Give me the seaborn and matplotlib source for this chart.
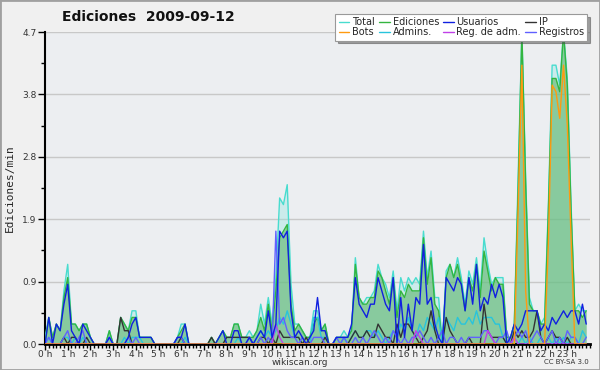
import numpy as np
import pandas as pd
import matplotlib
matplotlib.use("Agg")
import matplotlib.pyplot as plt
from matplotlib.lines import Line2D
from matplotlib.patches import Rectangle
from matplotlib.ticker import FixedLocator
import seaborn as sns

# ---------------- data (edits per minute, 10-minute buckets, 24 h) ----------------
hour_labels = [f"{h} h" for h in range(24)]
slot_minutes = list(range(0, 1440, 10))

total = [
    0.1, 0.4, 0.1, 0.3, 0.2, 0.8,
    1.2, 0.3, 0.3, 0.2, 0.3, 0.3,
    0.1, 0.0, 0.0, 0.0, 0.0, 0.2,
    0.0, 0.0, 0.4, 0.3, 0.2, 0.5,
    0.5, 0.1, 0.1, 0.1, 0.1, 0.0,
    0.0, 0.0, 0.0, 0.0, 0.0, 0.1,
    0.3, 0.3, 0.0, 0.0, 0.0, 0.0,
    0.0, 0.0, 0.1, 0.0, 0.1, 0.2,
    0.1, 0.1, 0.3, 0.3, 0.1, 0.1,
    0.2, 0.1, 0.2, 0.6, 0.3, 0.7,
    0.3, 1.0, 2.2, 2.1, 2.4, 0.9,
    0.3, 0.3, 0.2, 0.1, 0.1, 0.5,
    0.5, 0.2, 0.3, 0.0, 0.0, 0.1,
    0.1, 0.2, 0.1, 0.2, 1.3, 0.7,
    0.6, 0.7, 0.7, 0.8, 1.2, 1.0,
    0.9, 0.7, 1.1, 0.5, 1.0, 0.8,
    1.0, 0.9, 1.0, 0.9, 1.7, 1.0,
    1.4, 0.7, 0.7, 0.0, 1.1, 1.2,
    1.0, 1.3, 1.0, 0.6, 1.1, 0.9,
    1.3, 0.8, 1.6, 1.2, 0.9, 1.0,
    1.0, 1.0, 0.1, 0.1, 0.3, 2.5,
    4.7, 2.5, 0.7, 0.5, 0.5, 0.3,
    0.4, 2.1, 4.2, 4.2, 3.9, 4.7,
    4.0, 2.1, 0.5, 0.6, 0.5, 0.5,
]

ediciones = [
    0.0, 0.4, 0.1, 0.3, 0.2, 0.7,
    1.0, 0.3, 0.3, 0.2, 0.3, 0.3,
    0.1, 0.0, 0.0, 0.0, 0.0, 0.2,
    0.0, 0.0, 0.4, 0.3, 0.2, 0.4,
    0.4, 0.1, 0.1, 0.1, 0.1, 0.0,
    0.0, 0.0, 0.0, 0.0, 0.0, 0.1,
    0.2, 0.3, 0.0, 0.0, 0.0, 0.0,
    0.0, 0.0, 0.1, 0.0, 0.1, 0.2,
    0.1, 0.1, 0.3, 0.3, 0.1, 0.1,
    0.1, 0.1, 0.2, 0.4, 0.2, 0.6,
    0.2, 0.8, 1.6, 1.7, 1.8, 0.6,
    0.2, 0.3, 0.2, 0.1, 0.1, 0.3,
    0.4, 0.2, 0.3, 0.0, 0.0, 0.1,
    0.1, 0.1, 0.1, 0.2, 1.2, 0.7,
    0.6, 0.6, 0.7, 0.7, 1.1, 1.0,
    0.8, 0.6, 1.0, 0.4, 0.8, 0.7,
    0.9, 0.8, 0.8, 0.8, 1.6, 0.9,
    1.3, 0.6, 0.5, 0.0, 1.0, 1.2,
    1.0, 1.2, 0.9, 0.5, 1.0, 0.8,
    1.2, 0.7, 1.4, 1.1, 0.8, 1.0,
    0.9, 0.9, 0.1, 0.1, 0.3, 2.3,
    4.7, 2.4, 0.6, 0.5, 0.5, 0.3,
    0.3, 2.0, 4.0, 4.0, 3.8, 4.7,
    3.9, 2.0, 0.5, 0.5, 0.4, 0.5,
]

usuarios = [
    0.0, 0.4, 0.0, 0.3, 0.2, 0.6,
    0.9, 0.2, 0.1, 0.0, 0.3, 0.2,
    0.1, 0.0, 0.0, 0.0, 0.0, 0.1,
    0.0, 0.0, 0.0, 0.0, 0.1, 0.3,
    0.4, 0.1, 0.1, 0.1, 0.1, 0.0,
    0.0, 0.0, 0.0, 0.0, 0.0, 0.1,
    0.1, 0.3, 0.0, 0.0, 0.0, 0.0,
    0.0, 0.0, 0.0, 0.0, 0.1, 0.2,
    0.0, 0.0, 0.2, 0.2, 0.0, 0.0,
    0.1, 0.0, 0.1, 0.2, 0.1, 0.5,
    0.1, 0.3, 1.7, 1.6, 1.7, 0.5,
    0.1, 0.2, 0.1, 0.0, 0.1, 0.2,
    0.7, 0.2, 0.2, 0.0, 0.0, 0.1,
    0.1, 0.1, 0.1, 0.3, 1.0, 0.6,
    0.5, 0.4, 0.6, 0.6, 1.0, 0.8,
    0.6, 0.5, 1.0, 0.0, 0.7, 0.1,
    0.6, 0.2, 0.7, 0.6, 1.5, 0.6,
    0.7, 0.3, 0.1, 0.0, 1.0, 0.9,
    0.8, 1.0, 0.9, 0.5, 1.0, 0.6,
    1.2, 0.5, 0.7, 0.6, 0.9, 0.7,
    0.9, 0.7, 0.0, 0.1, 0.3, 0.2,
    0.3, 0.5, 0.5, 0.5, 0.5, 0.2,
    0.3, 0.2, 0.4, 0.3, 0.4, 0.5,
    0.4, 0.5, 0.5, 0.3, 0.6, 0.3,
]

ip = [
    0.0, 0.0, 0.0, 0.0, 0.0, 0.1,
    0.0, 0.1, 0.1, 0.0, 0.0, 0.1,
    0.0, 0.0, 0.0, 0.0, 0.0, 0.0,
    0.0, 0.0, 0.4, 0.2, 0.2, 0.0,
    0.0, 0.0, 0.0, 0.0, 0.0, 0.0,
    0.0, 0.0, 0.0, 0.0, 0.0, 0.0,
    0.1, 0.0, 0.0, 0.0, 0.0, 0.0,
    0.0, 0.0, 0.1, 0.0, 0.0, 0.0,
    0.1, 0.1, 0.1, 0.1, 0.1, 0.1,
    0.1, 0.0, 0.0, 0.1, 0.1, 0.0,
    0.1, 0.0, 0.2, 0.1, 0.1, 0.1,
    0.1, 0.1, 0.0, 0.1, 0.0, 0.0,
    0.0, 0.0, 0.1, 0.0, 0.0, 0.0,
    0.0, 0.0, 0.0, 0.1, 0.2, 0.1,
    0.1, 0.2, 0.1, 0.1, 0.3, 0.2,
    0.1, 0.1, 0.0, 0.3, 0.1, 0.3,
    0.3, 0.2, 0.1, 0.0, 0.1, 0.2,
    0.5, 0.2, 0.0, 0.0, 0.4, 0.2,
    0.1, 0.0, 0.0, 0.0, 0.1, 0.0,
    0.0, 0.0, 0.6, 0.2, 0.1, 0.1,
    0.1, 0.1, 0.0, 0.0, 0.2, 0.1,
    0.2, 0.1, 0.1, 0.2, 0.5, 0.1,
    0.0, 0.1, 0.2, 0.1, 0.1, 0.0,
    0.1, 0.0, 0.0, 0.0, 0.0, 0.0,
]

bots = [
    0.0, 0.0, 0.0, 0.0, 0.0, 0.0,
    0.0, 0.0, 0.0, 0.0, 0.0, 0.0,
    0.0, 0.0, 0.0, 0.0, 0.0, 0.0,
    0.0, 0.0, 0.0, 0.0, 0.0, 0.0,
    0.0, 0.0, 0.0, 0.0, 0.0, 0.0,
    0.0, 0.0, 0.0, 0.0, 0.0, 0.0,
    0.0, 0.0, 0.0, 0.0, 0.0, 0.0,
    0.0, 0.0, 0.0, 0.0, 0.0, 0.0,
    0.0, 0.0, 0.0, 0.0, 0.0, 0.0,
    0.0, 0.0, 0.0, 0.0, 0.0, 0.0,
    0.0, 0.0, 0.0, 0.0, 0.0, 0.0,
    0.0, 0.0, 0.0, 0.0, 0.0, 0.0,
    0.0, 0.0, 0.0, 0.0, 0.0, 0.0,
    0.0, 0.0, 0.0, 0.0, 0.0, 0.0,
    0.0, 0.0, 0.0, 0.0, 0.0, 0.0,
    0.0, 0.0, 0.0, 0.0, 0.0, 0.0,
    0.0, 0.0, 0.0, 0.0, 0.0, 0.0,
    0.0, 0.0, 0.0, 0.0, 0.0, 0.0,
    0.0, 0.0, 0.0, 0.0, 0.0, 0.0,
    0.0, 0.0, 0.0, 0.0, 0.0, 0.0,
    0.0, 0.0, 0.0, 0.0, 0.0, 2.0,
    4.2, 0.8, 0.0, 0.0, 0.0, 0.0,
    0.0, 1.5, 3.9, 3.8, 3.4, 4.2,
    3.3, 1.6, 0.0, 0.0, 0.0, 0.0,
]

admins = [
    0.0, 0.1, 0.0, 0.0, 0.0, 0.1,
    0.1, 0.0, 0.1, 0.0, 0.1, 0.0,
    0.0, 0.0, 0.0, 0.0, 0.0, 0.1,
    0.0, 0.0, 0.0, 0.1, 0.0, 0.1,
    0.1, 0.1, 0.0, 0.0, 0.0, 0.0,
    0.0, 0.0, 0.0, 0.0, 0.0, 0.0,
    0.0, 0.1, 0.0, 0.0, 0.0, 0.0,
    0.0, 0.0, 0.0, 0.0, 0.0, 0.0,
    0.0, 0.0, 0.0, 0.1, 0.0, 0.0,
    0.1, 0.0, 0.1, 0.2, 0.1, 0.2,
    0.1, 0.2, 0.4, 0.3, 0.5, 0.3,
    0.1, 0.1, 0.0, 0.0, 0.0, 0.4,
    0.4, 0.1, 0.1, 0.0, 0.0, 0.0,
    0.0, 0.1, 0.0, 0.1, 0.2, 0.1,
    0.1, 0.2, 0.2, 0.1, 0.2, 0.1,
    0.0, 0.1, 0.2, 0.1, 0.3, 0.2,
    0.4, 0.2, 0.1, 0.3, 0.2, 0.4,
    0.3, 0.2, 0.4, 0.0, 0.4, 0.3,
    0.2, 0.4, 0.3, 0.3, 0.4, 0.3,
    0.5, 0.3, 0.4, 0.4, 0.4, 0.3,
    0.3, 0.1, 0.0, 0.0, 0.1, 0.0,
    0.1, 0.0, 0.1, 0.0, 0.0, 0.1,
    0.0, 0.1, 0.0, 0.1, 0.0, 0.1,
    0.0, 0.1, 0.1, 0.0, 0.2, 0.1,
]

reg_adm = [
    0.0, 0.0, 0.0, 0.0, 0.0, 0.0,
    0.0, 0.0, 0.0, 0.0, 0.0, 0.0,
    0.0, 0.0, 0.0, 0.0, 0.0, 0.0,
    0.0, 0.0, 0.0, 0.0, 0.0, 0.0,
    0.0, 0.0, 0.0, 0.0, 0.0, 0.0,
    0.0, 0.0, 0.0, 0.0, 0.0, 0.0,
    0.0, 0.0, 0.0, 0.0, 0.0, 0.0,
    0.0, 0.0, 0.0, 0.0, 0.0, 0.0,
    0.0, 0.0, 0.0, 0.0, 0.0, 0.0,
    0.0, 0.0, 0.0, 0.0, 0.0, 0.0,
    0.0, 0.3, 0.1, 0.0, 0.0, 0.0,
    0.0, 0.0, 0.0, 0.0, 0.0, 0.0,
    0.0, 0.0, 0.0, 0.0, 0.0, 0.0,
    0.0, 0.0, 0.0, 0.0, 0.0, 0.0,
    0.0, 0.0, 0.0, 0.0, 0.0, 0.0,
    0.0, 0.0, 0.0, 0.0, 0.0, 0.0,
    0.0, 0.0, 0.2, 0.1, 0.0, 0.0,
    0.0, 0.0, 0.0, 0.0, 0.0, 0.0,
    0.0, 0.0, 0.0, 0.0, 0.0, 0.0,
    0.0, 0.0, 0.0, 0.2, 0.1, 0.0,
    0.0, 0.0, 0.0, 0.0, 0.1, 0.0,
    0.0, 0.0, 0.0, 0.0, 0.0, 0.0,
    0.0, 0.0, 0.0, 0.0, 0.0, 0.0,
    0.0, 0.0, 0.0, 0.0, 0.0, 0.0,
]

registros = [
    0.0, 0.1, 0.0, 0.0, 0.0, 0.1,
    0.2, 0.0, 0.0, 0.1, 0.2, 0.0,
    0.0, 0.0, 0.0, 0.0, 0.0, 0.1,
    0.0, 0.0, 0.0, 0.0, 0.1, 0.0,
    0.1, 0.0, 0.0, 0.0, 0.0, 0.0,
    0.0, 0.0, 0.0, 0.0, 0.0, 0.1,
    0.1, 0.0, 0.0, 0.0, 0.0, 0.0,
    0.0, 0.0, 0.0, 0.0, 0.0, 0.0,
    0.0, 0.0, 0.0, 0.0, 0.0, 0.0,
    0.1, 0.0, 0.0, 0.1, 0.0, 0.1,
    0.0, 1.7, 0.3, 0.4, 0.2, 0.1,
    0.1, 0.0, 0.1, 0.0, 0.0, 0.1,
    0.1, 0.1, 0.0, 0.0, 0.0, 0.1,
    0.0, 0.1, 0.0, 0.0, 0.1, 0.0,
    0.1, 0.0, 0.1, 0.2, 0.1, 0.0,
    0.1, 0.0, 0.2, 0.1, 0.0, 0.1,
    0.0, 0.1, 0.1, 0.2, 0.1, 0.0,
    0.1, 0.0, 0.1, 0.2, 0.0, 0.1,
    0.1, 0.0, 0.1, 0.0, 0.1, 0.1,
    0.1, 0.1, 0.2, 0.2, 0.1, 0.0,
    0.1, 0.1, 0.2, 0.0, 0.1, 0.2,
    0.1, 0.2, 0.0, 0.1, 0.2, 0.1,
    0.0, 0.1, 0.2, 0.0, 0.1, 0.0,
    0.2, 0.1, 0.1, 0.0, 0.0, 0.1,
]

y_max = 4.7

# ---------------- styling ----------------
sns.set_theme(style="white")
plt.rcParams["font.family"] = ["DejaVu Sans"]

colors = {
    "Total": "#48dccf",
    "Ediciones": "#33b540",
    "Usuarios": "#1020e0",
    "IP": "#333333",
    "Bots": "#ff9a10",
    "Admins.": "#28c4dc",
    "Reg. de adm.": "#c040e8",
    "Registros": "#6060ff",
}

df = pd.DataFrame({
    "minute": slot_minutes,
    "Total": total,
    "Ediciones": ediciones,
    "Usuarios": usuarios,
    "IP": ip,
    "Bots": bots,
    "Admins.": admins,
    "Reg. de adm.": reg_adm,
    "Registros": registros,
})

fig = plt.figure(figsize=(6, 3.7), dpi=100, facecolor="#f0f0f0")
ax = fig.add_axes([45 / 600, 1 - 344 / 370, 545 / 600, 312 / 370])
ax.set_facecolor("#eceef1")

# filled areas
ax.fill_between(df["minute"], df["Total"], color="#8fe8e0", alpha=0.35, lw=0, zorder=1)
ax.fill_between(df["minute"], df["Ediciones"], color="#5cb56c", alpha=0.6, lw=0, zorder=1.5)

draw_order = ["Total", "Ediciones", "Admins.", "IP", "Registros", "Reg. de adm.", "Usuarios", "Bots"]
for i, name in enumerate(draw_order):
    sns.lineplot(data=df, x="minute", y=name, ax=ax, color=colors[name], lw=1.0,
                 legend=False, zorder=3 + i)

ax.set_xlim(0, 1440)
ax.set_ylim(0, y_max)

# y ticks
yt = np.linspace(0, y_max, 6)
ax.set_yticks(yt)
ax.set_yticklabels([f"{v:.1f}" for v in yt])
ax.yaxis.set_minor_locator(FixedLocator((yt[:-1] + yt[1:]) / 2))
ax.yaxis.grid(True, color="#c8c8c8", lw=1)
ax.xaxis.grid(False)
ax.set_axisbelow(True)

# x ticks
ax.set_xticks([h * 60 for h in range(24)])
ax.set_xticklabels(hour_labels)
ax.xaxis.set_minor_locator(FixedLocator(slot_minutes + [1440]))

ax.tick_params(axis="y", which="major", direction="out", length=5, width=1,
               color="black", labelsize=6.5, labelcolor="#333333", pad=1, left=True)
ax.tick_params(axis="y", which="minor", direction="out", length=3, width=1,
               color="black", left=True)
ax.tick_params(axis="x", which="major", direction="out", length=4, width=1,
               color="black", labelsize=6.5, labelcolor="#333333", pad=0.5, bottom=True)
ax.tick_params(axis="x", which="minor", direction="out", length=3, width=1,
               color="black", bottom=True)

for s in ["top", "right"]:
    ax.spines[s].set_visible(False)
ax.spines["left"].set_color("black")
ax.spines["left"].set_linewidth(1.5)
ax.spines["bottom"].set_color("black")
ax.spines["bottom"].set_linewidth(2)

ax.set_xlabel("")
ax.set_ylabel("Ediciones/min", family="DejaVu Sans Mono", fontsize=8, labelpad=5)

# texts
fig.text(148 / 600, 1 - 17 / 370, "Ediciones  2009-09-12", ha="center", va="center",
         fontsize=10, weight="bold", color="#111111")
fig.text(300 / 600, 1 - 362.5 / 370, "wikiscan.org", ha="center", va="center",
         fontsize=6.5, color="#333333")
fig.text(566 / 600, 1 - 362.5 / 370, "CC BY-SA 3.0", ha="center", va="center",
         fontsize=5, color="#333333")

# legend
legend_order = ["Total", "Bots", "Ediciones", "Admins.", "Usuarios", "Reg. de adm.", "IP", "Registros"]
handles = [Line2D([0], [0], color=colors[n], lw=1) for n in legend_order]
leg = fig.legend(handles, legend_order, ncol=4, loc="upper right",
                 bbox_to_anchor=(592 / 600, 1 - 9 / 370), frameon=True, fancybox=False,
                 shadow=True, fontsize=7, handlelength=1.1, handletextpad=0.3,
                 columnspacing=0.4, labelspacing=0.0, borderpad=0.35)
leg.get_frame().set_edgecolor("#999999")
leg.get_frame().set_facecolor("white")
leg.get_frame().set_linewidth(0.8)

fig.patches.append(Rectangle((0, 0), 1, 1, transform=fig.transFigure, fill=False,
                             edgecolor="#a0a0a0", lw=2))

fig.savefig("out.png", dpi=100, facecolor=fig.get_facecolor())
